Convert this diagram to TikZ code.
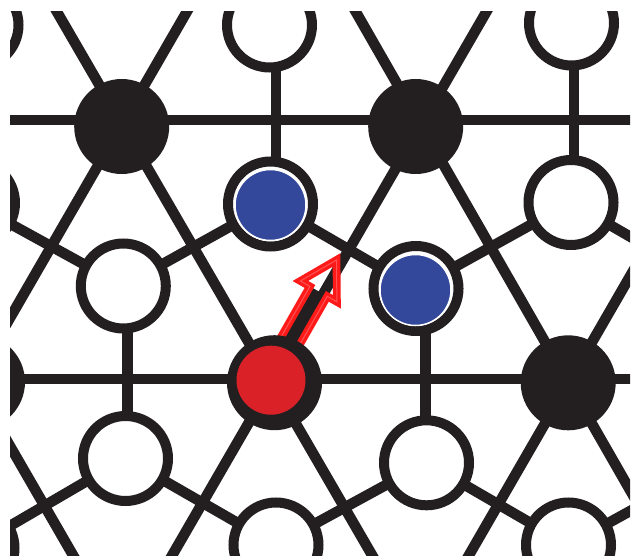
\documentclass[tikz,border=0pt]{standalone}
\usetikzlibrary{calc}
\definecolor{ink}{HTML}{231F20}
\definecolor{siteblue}{HTML}{33479B}
\definecolor{sitered}{HTML}{DA2128}
\definecolor{arrowred}{HTML}{FF1A1A}
\tikzset{
  bond/.style={draw=ink, line width=10.5pt},
  wsite/.style={circle, draw=ink, fill=white, line width=10pt, minimum size=85pt, inner sep=0pt, outer sep=0pt},
  bsite/.style={circle, fill=ink, draw=none, minimum size=95pt, inner sep=0pt},
  bluecore/.style={circle, fill=siteblue, draw=white, line width=1.5pt, minimum size=71pt, inner sep=0pt},
  redcore/.style={circle, fill=sitered, draw=none, minimum size=69pt, inner sep=0pt},
  hoparrow/.style={draw=arrowred, line width=3.4pt, double=arrowred!75!white, double distance=1pt, line join=miter, miter limit=10},
  hopcore/.style={draw=ink, line width=13pt}
}
\begin{document}
\begin{tikzpicture}[x=1pt,y=-1pt]
\fill[white] (0,0) rectangle (634,556);
\useasboundingbox (0,0) rectangle (634,556);
\begin{scope}
\clip (10,12) rectangle (630,556);
% triangular lattice points
\coordinate (tB0) at (-27,382);
\coordinate (tB1) at (122,124);
\coordinate (tB2) at (420.8,125.2);
\coordinate (tR)  at (272,382.6);
\coordinate (tB3) at (568.5,382.8);
\coordinate (tB4) at (717.5,124.8);
\coordinate (tC0) at (122,640);
\coordinate (H1w) at (0,120);
\coordinate (H1e) at (640,120);
\coordinate (H2w) at (0,379);
\coordinate (H2e) at (640,379);
% honeycomb sites
\coordinate (cWtl) at (-24,25);
\coordinate (cWtop) at (269.5,25);
\coordinate (cWtr) at (571.5,23);
\coordinate (cWl) at (-27.5,203);
\coordinate (cBu1) at (270.5,204);
\coordinate (cWr) at (571,202.5);
\coordinate (cWm) at (123.3,286);
\coordinate (cBu2) at (416,288.5);
\coordinate (cWb1) at (125.5,458.5);
\coordinate (cWb2) at (426.5,462.8);
\coordinate (cWc1) at (276,545);
\coordinate (cWc2) at (568.5,545);
\coordinate (cWbl) at (-28,548);
\coordinate (cXr1) at (719,288);
\coordinate (cXr2) at (719,462);
% triangular lattice lines
\draw[bond] (H1w) -- (H1e);
\draw[bond] (H2w) -- (H2e);
\draw[bond] ($(tB1)!-0.6!(tR)$) -- ($(tB1)!1.8!(tR)$);
\draw[bond] ($(tB0)!1.6!(tB1)$) -- (tB0);
\draw[bond] ($(tB2)!-0.6!(tB3)$) -- ($(tB2)!1.8!(tB3)$);
\draw[bond] ($(tR)!1.6!(tB2)$) -- ($(tR)!-0.8!(tB2)$);
\draw[bond] (tB4) -- ($(tB4)!1.9!(tB3)$);
\draw[bond] (tB0) -- (tC0);
% honeycomb bonds
\draw[bond] (cWl) -- (cWm);
\draw[bond] (cBu1) -- (cWm);
\draw[bond] (cBu1) -- (cBu2);
\draw[bond] (cBu2) -- (cWr);
\draw[bond] (cWr) -- (cXr1);
\draw[bond] (cWb1) -- (cWbl);
\draw[bond] (cWb1) -- (cWc1);
\draw[bond] (cWb2) -- (cWc1);
\draw[bond] (cWb2) -- (cWc2);
\draw[bond] (cXr2) -- (cWc2);
\draw[bond] ($(cWtop)+(6.5,0)$) -- ($(cBu1)+(5.5,0)$);
\draw[bond] ($(cWtr)+(2.5,0)$) -- ($(cWr)+(3,0)$);
\draw[bond] ($(cWm)+(4.4,0)$) -- ($(cWb1)+(2.2,0)$);
\draw[bond] ($(cBu2)+(9.3,0)$) -- ($(cWb2)+(-1.2,0)$);
% hop arrow
\coordinate (aT) at (336.5,260);
\coordinate (aLB) at (300.41,280.96);
\coordinate (aRB) at (336.87,301.80);
\coordinate (aLH) at (309.96,286.42);
\coordinate (aRH) at (327.32,296.34);
\coordinate (aLS) at (280.2,338.5);
\coordinate (aRS) at (297.56,348.42);
\coordinate (aAS) at (288.88,343.46);
\coordinate (aAH) at (318.64,291.38);
\draw[hopcore] (aAS) -- (aAH);
\draw[hoparrow] (aLS) -- (aLH) -- (aLB) -- (aT) -- (aRB) -- (aRH) -- (aRS);
% black sites
\node[bsite] (B0) at (-22.5,382) {};
\node[bsite] (B1) at (121.7,126.5) {};
\node[bsite] (B2) at (415.7,126.5) {};
\node[bsite] (B3) at (568.2,382.8) {};
\node[bsite] (Rb) at (274.5,382.7) {};
\node[redcore] (Rc) at (271,380.2) {};
% white sites
\node[wsite] (Wtl) at (cWtl) {};
\node[wsite] (Wtop) at (cWtop) {};
\node[wsite] (Wtr) at (cWtr) {};
\node[wsite] (Wl) at (cWl) {};
\node[wsite] (Wr) at (cWr) {};
\node[wsite] (Wm) at (cWm) {};
\node[wsite] (Wb1) at (cWb1) {};
\node[wsite] (Wb2) at (cWb2) {};
\node[wsite] (Wc1) at (cWc1) {};
\node[wsite] (Wc2) at (cWc2) {};
\node[wsite] (Wbl) at (cWbl) {};
% blue sites
\node[wsite] (Bu1) at (cBu1) {};
\node[bluecore] (Bu1c) at (270.5,205) {};
\node[wsite] (Bu2) at (cBu2) {};
\node[bluecore] (Bu2c) at (415.5,290) {};
\end{scope}
\end{tikzpicture}
\end{document}
